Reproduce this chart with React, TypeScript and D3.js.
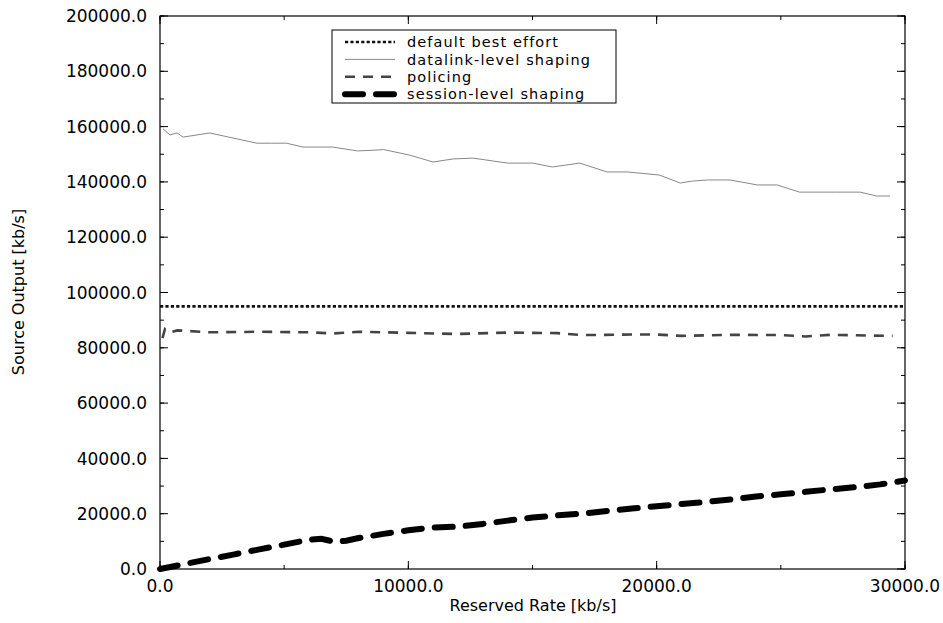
import React from "react";
import * as d3 from "d3";

// values
const rateTicks = [0, 10000, 20000, 30000];
const outputTicks = [0, 20000, 40000, 60000, 80000, 100000, 120000, 140000, 160000, 180000, 200000];

const bestEffort = [
  [0, 95000], [30000, 95000],
];

const datalinkShaping = [
  [120, 159200], [400, 157000], [690, 157700], [930, 156200], [2000, 157700], [3900, 154000],
  [4500, 154000], [5100, 154000], [5750, 152600], [6950, 152600], [7950, 151200], [8700, 151500],
  [9000, 151700], [10050, 149700], [11000, 147200], [11800, 148300], [12600, 148600], [14000, 146800],
  [15000, 146800], [15800, 145400], [16900, 146800], [18000, 143600], [18800, 143600], [20100, 142500],
  [20950, 139600], [21450, 140300], [22050, 140700], [22950, 140700], [24050, 138900], [24850, 138900],
  [25750, 136300], [27250, 136300], [28200, 136300], [28850, 134900], [29400, 134900],
];

const policing = [
  [100, 83500], [200, 86800], [400, 85600], [700, 86300], [2000, 85600], [4000, 85800],
  [6000, 85600], [7000, 85200], [8000, 85800], [10000, 85400], [12000, 85000], [14000, 85500],
  [16000, 85300], [17000, 84600], [19000, 84800], [20000, 84800], [21000, 84300], [23000, 84700],
  [25000, 84600], [26000, 84100], [27000, 84700], [29500, 84300],
];

const sessionShaping = [
  [0, 0], [1000, 1800], [2000, 3600], [3000, 5300], [4000, 7100], [5000, 8800], [6000, 10600],
  [6500, 10900], [7000, 9900], [7500, 10200], [8000, 11200], [9000, 12700], [10000, 14000],
  [11000, 15000], [12000, 15300], [13000, 16300], [14000, 17500], [15000, 18600], [16000, 19400],
  [17000, 20000], [18000, 21000], [19000, 21900], [20000, 22700], [21000, 23500], [22000, 24300],
  [23000, 25200], [24000, 26200], [25000, 27000], [26000, 27900], [27000, 28800], [28000, 29600],
  [29000, 30600], [30000, 32000],
];

const legendLabels = ["default best effort", "datalink-level shaping", "policing", "session-level shaping"];

const W = 943, H = 623;
const left = 160, right = 905, top = 16, bottom = 569;
const FONT = "DejaVu Sans";

const styles = [
  { stroke: "#111", width: 2.6, dash: "3.2,2.2", cap: "butt" },
  { stroke: "#888", width: 1, dash: "none", cap: "butt" },
  { stroke: "#444", width: 2.6, dash: "10,8", cap: "butt" },
  { stroke: "#000", width: 6, dash: "18,13", cap: "round" },
];

export default function App() {
  const x = d3.scaleLinear().domain([0, 30000]).range([left, right]);
  const y = d3.scaleLinear().domain([0, 200000]).range([bottom, top]);
  const line = d3.line<number[]>().x(d => x(d[0])).y(d => y(d[1]));
  const fmt = d3.format(".1f");

  const xMinor = d3.range(0, 30001, 5000);
  const yMinor = d3.range(0, 200001, 10000);
  const series = [bestEffort, datalinkShaping, policing, sessionShaping];

  return (
    <svg width={W} height={H} style={{ position: "absolute", left: 0, top: 0, background: "#fff" }}
      fontFamily={FONT}>
      <rect x={0} y={0} width={W} height={H} fill="#fff" />
      {/* minor ticks */}
      {xMinor.map(v => (
        <g key={"xm" + v} stroke="#000" strokeWidth={1}>
          <line x1={x(v)} x2={x(v)} y1={bottom} y2={bottom - 4} />
          <line x1={x(v)} x2={x(v)} y1={top} y2={top + 4} />
        </g>
      ))}
      {yMinor.map(v => (
        <g key={"ym" + v} stroke="#000" strokeWidth={1}>
          <line x1={left} x2={left + 4} y1={y(v)} y2={y(v)} />
          <line x1={right} x2={right - 4} y1={y(v)} y2={y(v)} />
        </g>
      ))}
      {/* major ticks + labels */}
      {rateTicks.map(v => (
        <g key={"x" + v}>
          <line x1={x(v)} x2={x(v)} y1={bottom} y2={bottom - 8} stroke="#000" />
          <line x1={x(v)} x2={x(v)} y1={top} y2={top + 8} stroke="#000" />
          <text x={x(v)} y={592} textAnchor="middle" fontSize={17}>{fmt(v)}</text>
        </g>
      ))}
      {outputTicks.map(v => (
        <g key={"y" + v}>
          <line x1={left} x2={left + 8} y1={y(v)} y2={y(v)} stroke="#000" />
          <line x1={right} x2={right - 8} y1={y(v)} y2={y(v)} stroke="#000" />
          <text x={147} y={y(v)} dy="0.36em" textAnchor="end" fontSize={17}>{fmt(v)}</text>
        </g>
      ))}
      <rect x={left} y={top} width={right - left} height={bottom - top} fill="none" stroke="#000" strokeWidth={1.2} />

      {series.map((s, i) => (
        <path key={"s" + i} d={line(s) || ""} fill="none" stroke={styles[i].stroke}
          strokeWidth={styles[i].width} strokeDasharray={styles[i].dash} strokeLinecap={styles[i].cap as any} />
      ))}

      {/* legend */}
      <rect x={332} y={30} width={284} height={73} fill="#fff" stroke="#000" strokeWidth={1} />
      {legendLabels.map((lab, i) => {
        const ly = 42 + i * 17.4;
        return (
          <g key={lab}>
            <line x1={345} x2={395} y1={ly} y2={ly} stroke={styles[i].stroke} strokeWidth={styles[i].width}
              strokeDasharray={styles[i].dash} strokeLinecap={styles[i].cap as any} />
            <text x={407} y={ly} dy="0.36em" fontSize={14.5} letterSpacing={1.1}>{lab}</text>
          </g>
        );
      })}

      <text x={533} y={611} textAnchor="middle" fontSize={16}>Reserved Rate [kb/s]</text>
      <text transform={`translate(24,292) rotate(-90)`} textAnchor="middle" fontSize={16}>Source Output [kb/s]</text>
    </svg>
  );
}
